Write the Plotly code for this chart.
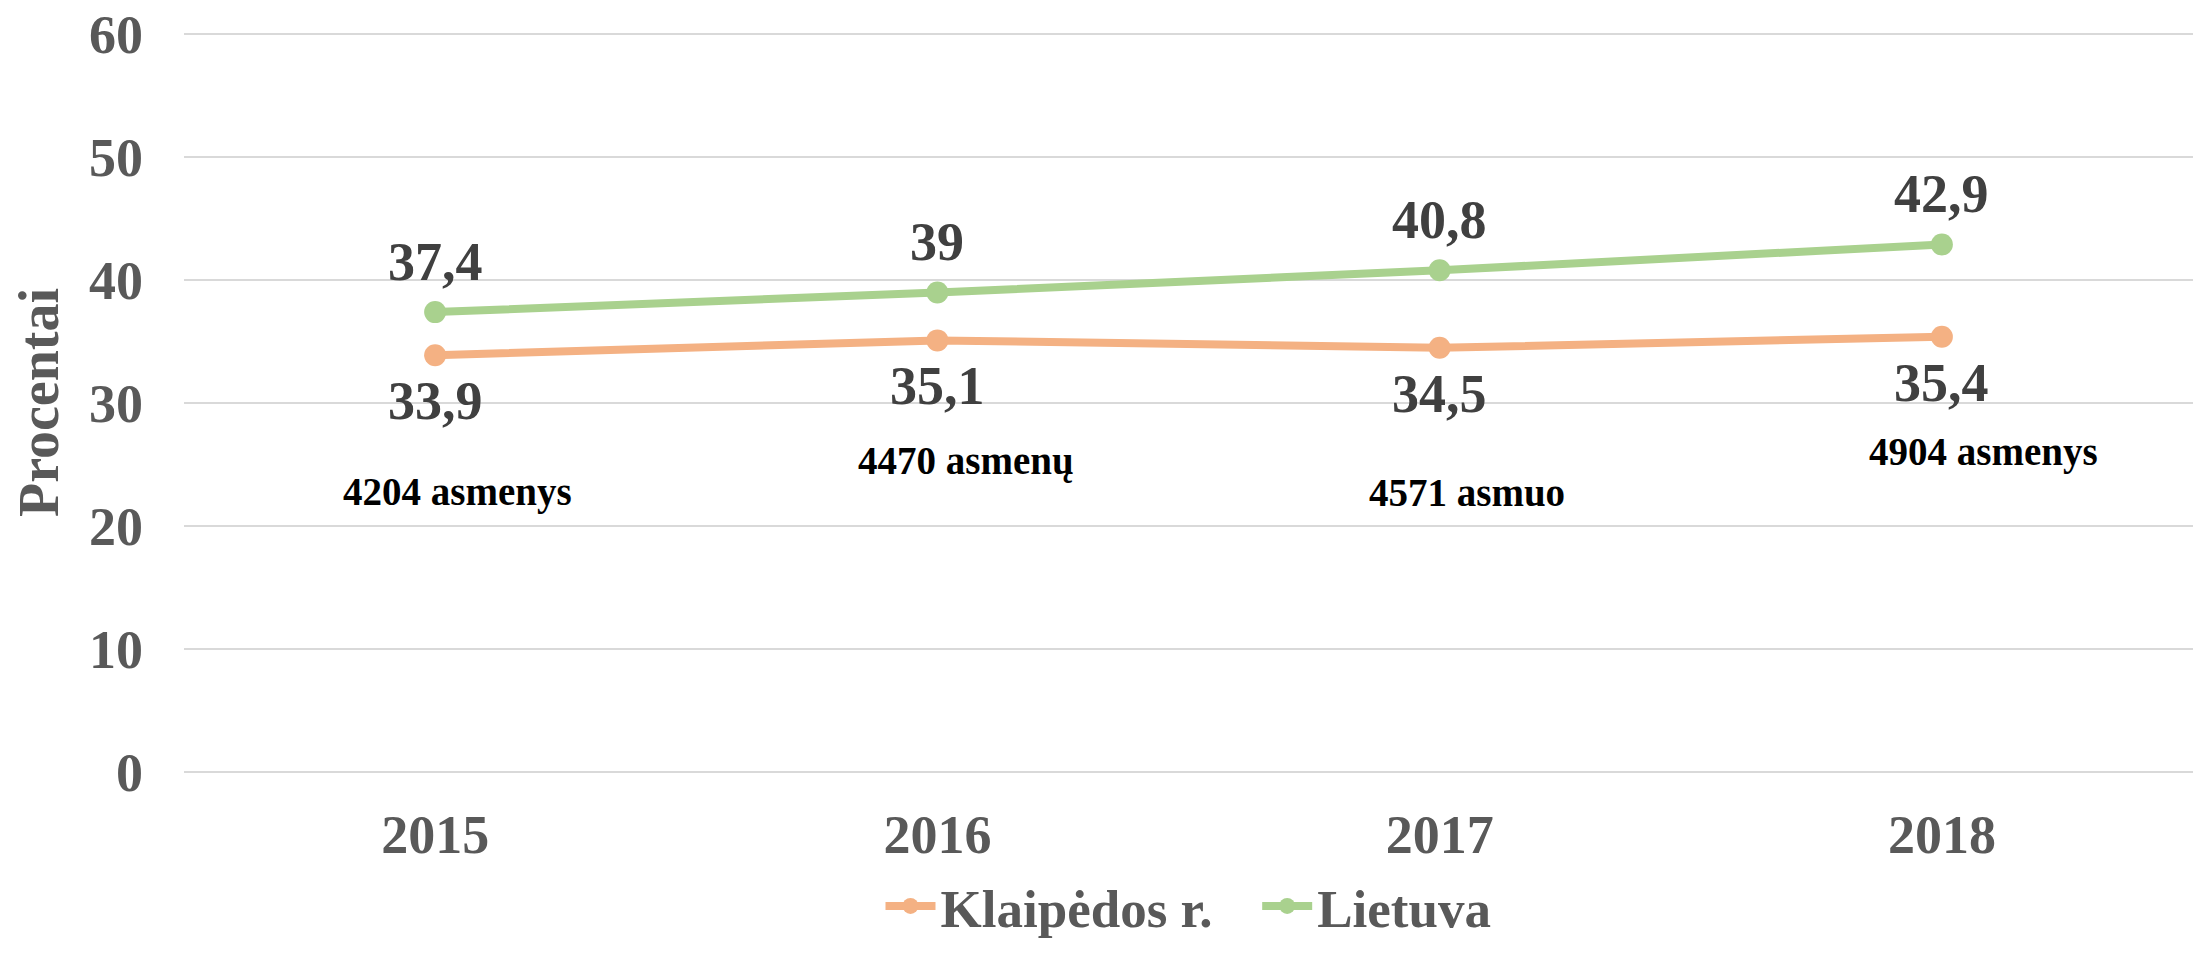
import plotly.graph_objects as go

years = ["2015", "2016", "2017", "2018"]
klaipeda = [33.9, 35.1, 34.5, 35.4]
lietuva = [37.4, 39.0, 40.8, 42.9]
klaipeda_labels = ["33,9", "35,1", "34,5", "35,4"]
lietuva_labels = ["37,4", "39", "40,8", "42,9"]
persons = ["4204 asmenys", "4470 asmenų", "4571 asmuo", "4904 asmenys"]
persons_y = [22.75, 25.3, 22.75, 26.0]
persons_dx = [22, 29, 27, 42]

FONT = "Liberation Serif"
ORANGE = "#F4B183"
GREEN = "#A9D18E"

fig = go.Figure()
fig.add_trace(go.Scatter(
    x=years, y=klaipeda, name="Klaipėdos r.\u00a0\u00a0\u00a0",
    mode="lines+markers",
    line=dict(color=ORANGE, width=8),
    marker=dict(color=ORANGE, size=22),
))
fig.add_trace(go.Scatter(
    x=years, y=lietuva, name="Lietuva",
    mode="lines+markers",
    line=dict(color=GREEN, width=8),
    marker=dict(color=GREEN, size=22),
))

# value labels: Lietuva above, Klaipėdos r. below the points
for i in range(len(years)):
    fig.add_annotation(
        x=i, y=lietuva[i], text=lietuva_labels[i], showarrow=False, yshift=50,
        font=dict(family=FONT, size=54, color="#404040", weight="bold"),
    )
    fig.add_annotation(
        x=i, y=klaipeda[i], text=klaipeda_labels[i], showarrow=False, yshift=-46,
        font=dict(family=FONT, size=54, color="#404040", weight="bold"),
    )
    # number of persons under each Klaipėda point
    fig.add_annotation(
        x=i, y=persons_y[i], text=persons[i], showarrow=False, xshift=persons_dx[i],
        font=dict(family=FONT, size=39, color="#000000", weight="bold"),
    )

# page body has an 8px margin, so the figure is a bit smaller than the window
fig.update_layout(
    width=2185, height=939,
    margin=dict(l=176, r=0, t=25, b=175, autoexpand=False),
    plot_bgcolor="white", paper_bgcolor="white",
    font=dict(family=FONT, color="#595959", weight="bold"),
    showlegend=True,
    legend=dict(
        orientation="h", x=0.5, xanchor="center",
        yref="container", y=0, yanchor="bottom",
        font=dict(family=FONT, size=53, color="#595959", weight="bold"),
        itemwidth=50,
    ),
)
fig.update_xaxes(
    type="category", range=[-0.5, 3.5], automargin=False,
    showgrid=False, showline=False, zeroline=False,
    tickfont=dict(family=FONT, size=54, color="#595959", weight="bold"),
    ticklabelstandoff=26,
)
fig.update_yaxes(
    range=[0, 60.1], tickvals=[0, 10, 20, 30, 40, 50, 60], automargin=False,
    showgrid=True, gridcolor="#D9D9D9", gridwidth=2,
    zeroline=True, zerolinecolor="#D9D9D9", zerolinewidth=2,
    showline=False, ticklabeloverflow="allow",
    tickfont=dict(family=FONT, size=54, color="#595959", weight="bold"),
    ticklabelstandoff=40,
    title=dict(text="Procentai", standoff=15,
               font=dict(family=FONT, size=56, color="#595959", weight="bold")),
)

fig.write_html("out.html")
